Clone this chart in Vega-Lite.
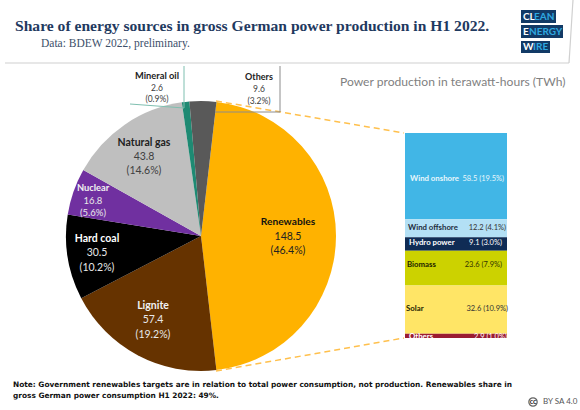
{"$schema":"https://vega.github.io/schema/vega-lite/v6.json","width":580,"height":410,"padding":0,"autosize":{"type":"none"},"background":"white","config":{"view":{"stroke":null},"text":{"font":"Lato"}},
"title":{"text":"Share of energy sources in gross German power production in H1 2022.","anchor":"start","frame":"group","dx":15,"dy":35,"offset":0,"font":"Liberation Serif","fontWeight":"bold","fontSize":15.6,"color":"#1f3a5f"},
"datasets":{"energy":[
{"source":"Renewables","twh":148.5,"share":46.4,"shareLabel":"(46.4%)"},
{"source":"Lignite","twh":57.4,"share":19.2,"shareLabel":"(19.2%)"},
{"source":"Hard coal","twh":30.5,"share":10.2,"shareLabel":"(10.2%)"},
{"source":"Nuclear","twh":16.8,"share":5.6,"shareLabel":"(5.6%)"},
{"source":"Natural gas","twh":43.8,"share":14.6,"shareLabel":"(14.6%)"},
{"source":"Mineral oil","twh":2.6,"share":0.9,"shareLabel":"(0.9%)"},
{"source":"Others","twh":9.6,"share":3.2,"shareLabel":"(3.2%)"}],
"renew":[
{"key":"onshore","source":"Wind onshore","twh":58.5,"label":"58.5 (19.5%)","order":1},
{"key":"offshore","source":"Wind offshore","twh":12.2,"label":"12.2 (4.1%)","order":2},
{"key":"hydro","source":"Hydro power","twh":9.1,"label":"9.1 (3.0%)","order":3},
{"key":"biomass","source":"Biomass","twh":23.6,"label":"23.6 (7.9%)","order":4},
{"key":"solar","source":"Solar","twh":32.6,"label":"32.6 (10.9%)","order":5},
{"key":"others","source":"Others","twh":2.9,"label":"2.9 (1.0%)","order":6}]},
"layer":[
{"data":{"name":"energy"},"transform":[{"window":[{"op":"row_number","as":"idx"}]}],"mark":{"type":"arc","outerRadius":135,"innerRadius":0},"encoding":{"x":{"value":201},"y":{"value":236},
"theta":{"field":"share","type":"quantitative","stack":true,"scale":{"range":[0.115,6.398]}},"order":{"field":"idx"},
"color":{"field":"source","type":"nominal","legend":null,"scale":{"domain":["Renewables","Lignite","Hard coal","Nuclear","Natural gas","Mineral oil","Others"],"range":["#FFB200","#663300","#000000","#7030A0","#BFBFBF","#1E8A73","#595959"]}}}},
{"data":{"values":[{}]},"mark":{"type":"rule","stroke":"#FFC04D","strokeWidth":1.5,"strokeDash":[6,4]},"encoding":{"x":{"value":216},"y":{"value":101},"x2":{"value":404},"y2":{"value":133}}},
{"data":{"values":[{}]},"mark":{"type":"rule","stroke":"#FFC04D","strokeWidth":1.5,"strokeDash":[6,4]},"encoding":{"x":{"value":216},"y":{"value":371},"x2":{"value":404},"y2":{"value":338}}},
{"data":{"values":[{}]},"mark":{"type":"rule","stroke":"#7FBFB0","strokeWidth":1},"encoding":{"x":{"value":184},"y":{"value":66},"x2":{"value":184},"y2":{"value":108}}},
{"data":{"values":[{}]},"mark":{"type":"rule","stroke":"#7FBFB0","strokeWidth":1},"encoding":{"x":{"value":130},"y":{"value":104},"x2":{"value":184},"y2":{"value":108}}},
{"data":{"values":[{}]},"mark":{"type":"rule","stroke":"#8C8C8C","strokeWidth":1},"encoding":{"x":{"value":280},"y":{"value":66},"x2":{"value":280},"y2":{"value":112}}},
{"data":{"values":[{}]},"mark":{"type":"rule","stroke":"#8C8C8C","strokeWidth":1},"encoding":{"x":{"value":215},"y":{"value":112},"x2":{"value":280},"y2":{"value":112}}},
{"data":{"name":"renew"},"mark":{"type":"bar","orient":"vertical"},"encoding":{"x":{"value":405},"x2":{"value":507},
"y":{"field":"twh","type":"quantitative","stack":"zero","axis":null,"scale":{"domain":[0,138.9],"range":[338,133],"nice":false}},
"order":{"field":"order","sort":"descending"},
"color":{"field":"key","type":"nominal","legend":null,"scale":{"domain":["onshore","offshore","hydro","biomass","solar","others"],"range":["#41B6E6","#B3E0F5","#0F2C55","#CCD200","#FFE566","#9B1C31"]}}}},
{"data":{"name":"energy"},"transform":[{"window":[{"op":"row_number","as":"idx"}]}],"mark":{"type":"text","fontWeight":"bold","baseline":"middle","align":"center"},"encoding":{"text":{"field":"source"},
"x":{"field":"idx","type":"quantitative","axis":null,"scale":{"domain":[1,2,3,4,5,6,7],"range":[288,153,97,93,144,157,259],"nice":false,"zero":false}},
"y":{"field":"idx","type":"quantitative","axis":null,"scale":{"domain":[1,2,3,4,5,6,7],"range":[222,306,239,188,143,76,77],"nice":false,"zero":false}},
"size":{"field":"idx","type":"quantitative","legend":null,"scale":{"domain":[1,2,3,4,5,6,7],"range":[10.2,10.5,10.5,9.3,10.5,9.3,9],"nice":false,"zero":false}},
"color":{"field":"source","type":"nominal","legend":null,"scale":{"domain":["Renewables","Lignite","Hard coal","Nuclear","Natural gas","Mineral oil","Others"],"range":["#111111","#F2F2F2","#FFFFFF","#F2F2F2","#222222","#222222","#222222"]}}}},
{"data":{"name":"energy"},"transform":[{"window":[{"op":"row_number","as":"idx"}]}],"mark":{"type":"text","baseline":"middle","align":"center"},"encoding":{"text":{"field":"twh","type":"quantitative","format":".1f"},
"x":{"field":"idx","type":"quantitative","axis":null,"scale":{"domain":[1,2,3,4,5,6,7],"range":[288,153,97,93,144,157,259],"nice":false,"zero":false}},
"y":{"field":"idx","type":"quantitative","axis":null,"scale":{"domain":[1,2,3,4,5,6,7],"range":[237,320,253,201,157,88,89],"nice":false,"zero":false}},
"size":{"field":"idx","type":"quantitative","legend":null,"scale":{"domain":[1,2,3,4,5,6,7],"range":[10.5,10.5,10.5,9.5,10.5,8.5,8.5],"nice":false,"zero":false}},
"color":{"field":"source","type":"nominal","legend":null,"scale":{"domain":["Renewables","Lignite","Hard coal","Nuclear","Natural gas","Mineral oil","Others"],"range":["#222222","#E8E8E8","#E8E8E8","#E8E8E8","#404040","#404040","#404040"]}}}},
{"data":{"name":"energy"},"transform":[{"window":[{"op":"row_number","as":"idx"}]}],"mark":{"type":"text","baseline":"middle","align":"center"},"encoding":{"text":{"field":"shareLabel"},
"x":{"field":"idx","type":"quantitative","axis":null,"scale":{"domain":[1,2,3,4,5,6,7],"range":[288,153,97,93,144,157,259],"nice":false,"zero":false}},
"y":{"field":"idx","type":"quantitative","axis":null,"scale":{"domain":[1,2,3,4,5,6,7],"range":[251,335,268,213,171,99,101],"nice":false,"zero":false}},
"size":{"field":"idx","type":"quantitative","legend":null,"scale":{"domain":[1,2,3,4,5,6,7],"range":[10.5,10.5,10.5,9.5,10.5,8.5,8.5],"nice":false,"zero":false}},
"color":{"field":"source","type":"nominal","legend":null,"scale":{"domain":["Renewables","Lignite","Hard coal","Nuclear","Natural gas","Mineral oil","Others"],"range":["#222222","#E8E8E8","#E8E8E8","#E8E8E8","#404040","#404040","#404040"]}}}},
{"data":{"name":"renew"},"mark":{"type":"text","fontWeight":"bold","baseline":"middle","align":"left","fontSize":7.8},"encoding":{"text":{"field":"source"},
"x":{"field":"order","type":"quantitative","axis":null,"scale":{"domain":[1,2,3,4,5,6],"range":[410,408,409,407,406,409],"nice":false,"zero":false}},
"y":{"field":"order","type":"quantitative","axis":null,"scale":{"domain":[1,2,3,4,5,6],"range":[179,228,243,265,309,337],"nice":false,"zero":false}},
"color":{"field":"key","type":"nominal","legend":null,"scale":{"domain":["onshore","offshore","hydro","biomass","solar","others"],"range":["#E8F6FC","#1F2D3D","#FFFFFF","#222200","#222200","#FFFFFF"]}}}},
{"data":{"name":"renew"},"mark":{"type":"text","baseline":"middle","align":"right","fontSize":7.5},"encoding":{"text":{"field":"label"},
"x":{"field":"order","type":"quantitative","axis":null,"scale":{"domain":[1,2,3,4,5,6],"range":[504,506,502,502,508,507],"nice":false,"zero":false}},
"y":{"field":"order","type":"quantitative","axis":null,"scale":{"domain":[1,2,3,4,5,6],"range":[179,228,243,265,309,337],"nice":false,"zero":false}},
"color":{"field":"key","type":"nominal","legend":null,"scale":{"domain":["onshore","offshore","hydro","biomass","solar","others"],"range":["#E8F6FC","#333333","#FFFFFF","#333300","#333333","#FFFFFF"]}}}},
{"data":{"values":[{"t":"Data: BDEW 2022, preliminary."}]},"mark":{"type":"text","x":41,"y":44,"align":"left","baseline":"middle","font":"Liberation Serif","fontSize":11.5,"color":"#3c4f6a"},"encoding":{"text":{"field":"t"}}},
{"data":{"values":[{"t":"Power production in terawatt-hours (TWh)"}]},"mark":{"type":"text","x":340,"y":82,"align":"left","baseline":"middle","fontSize":12.1,"color":"#7f7f7f"},"encoding":{"text":{"field":"t"}}},
{"data":{"values":[{"t":["Note: Government renewables targets are in relation to total power consumption, not production. Renewables share in","gross German power consumption H1 2022: 49%."]}]},"mark":{"type":"text","x":13,"y":381,"align":"left","baseline":"top","font":"DejaVu Sans","fontWeight":"bold","fontSize":7.4,"lineHeight":10.5,"color":"#111111"},"encoding":{"text":{"field":"t"}}},
{"data":{"values":[{}]},"mark":{"type":"rule","stroke":"#D0D0D0","strokeWidth":1.2},"encoding":{"x":{"value":5},"y":{"value":63},"x2":{"value":569},"y2":{"value":63}}},
{"data":{"values":[{}]},"mark":{"type":"rule","stroke":"#D0D0D0","strokeWidth":1.2},"encoding":{"x":{"value":569},"y":{"value":63},"x2":{"value":573},"y2":{"value":0}}},
{"data":{"values":[{}]},"mark":{"type":"rect","x":521,"x2":556,"y":10,"y2":23,"fill":"#123A66"},"encoding":{}},
{"data":{"values":[{}]},"mark":{"type":"rect","x":521,"x2":563,"y":25,"y2":38,"fill":"#123A66"},"encoding":{}},
{"data":{"values":[{}]},"mark":{"type":"rect","x":521,"x2":550,"y":41,"y2":53,"fill":"#123A66"},"encoding":{}},
{"data":{"values":[{"t":"CL"}]},"mark":{"type":"text","x":523,"y":17,"align":"left","baseline":"middle","fontWeight":"bold","fontSize":10,"color":"#FFFFFF"},"encoding":{"text":{"field":"t"}}},
{"data":{"values":[{"t":"EAN"}]},"mark":{"type":"text","x":534,"y":17,"align":"left","baseline":"middle","fontWeight":"bold","fontSize":10,"color":"#2FA8E0"},"encoding":{"text":{"field":"t"}}},
{"data":{"values":[{"t":"E"}]},"mark":{"type":"text","x":523,"y":32,"align":"left","baseline":"middle","fontWeight":"bold","fontSize":10,"color":"#FFFFFF"},"encoding":{"text":{"field":"t"}}},
{"data":{"values":[{"t":"NERGY"}]},"mark":{"type":"text","x":529,"y":32,"align":"left","baseline":"middle","fontWeight":"bold","fontSize":10,"color":"#2FA8E0"},"encoding":{"text":{"field":"t"}}},
{"data":{"values":[{"t":"W"}]},"mark":{"type":"text","x":523,"y":47,"align":"left","baseline":"middle","fontWeight":"bold","fontSize":10,"color":"#FFFFFF"},"encoding":{"text":{"field":"t"}}},
{"data":{"values":[{"t":"IRE"}]},"mark":{"type":"text","x":533,"y":47,"align":"left","baseline":"middle","fontWeight":"bold","fontSize":10,"color":"#2FA8E0"},"encoding":{"text":{"field":"t"}}},
{"data":{"values":[{}]},"mark":{"type":"point","shape":"circle","x":533,"y":402,"size":70,"stroke":"#222222","strokeWidth":1.2,"filled":false},"encoding":{}},
{"data":{"values":[{"t":"cc"}]},"mark":{"type":"text","x":533,"y":402,"align":"center","baseline":"middle","fontWeight":"bold","fontSize":7,"color":"#222222"},"encoding":{"text":{"field":"t"}}},
{"data":{"values":[{"t":"BY SA 4.0"}]},"mark":{"type":"text","x":543,"y":402,"align":"left","baseline":"middle","fontSize":8,"color":"#555555"},"encoding":{"text":{"field":"t"}}}
],
"resolve":{"scale":{"x":"independent","y":"independent","color":"independent","size":"independent","theta":"independent"}}}
